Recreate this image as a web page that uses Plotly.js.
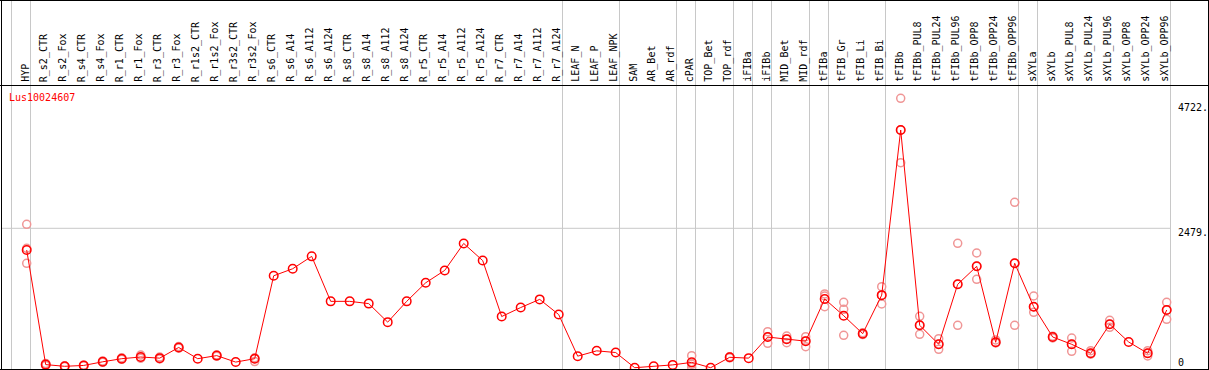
<!DOCTYPE html>
<html>
<head>
<meta charset="utf-8">
<script src="https://cdn.plot.ly/plotly-3.0.1.min.js"></script>
<style>html,body{margin:0;padding:0;background:#fff;}#chart{width:1209px;height:370px;}</style>
</head>
<body>
<div id="chart"></div>
<script>
const geneName = "Lus10024607";
const categories = ["HYP","R_s2_CTR","R_s2_Fox","R_s4_CTR","R_s4_Fox","R_r1_CTR","R_r1_Fox","R_r3_CTR","R_r3_Fox","R_r1s2_CTR","R_r1s2_Fox","R_r3s2_CTR","R_r3s2_Fox","R_s6_CTR","R_s6_A14","R_s6_A112","R_s6_A124","R_s8_CTR","R_s8_A14","R_s8_A112","R_s8_A124","R_r5_CTR","R_r5_A14","R_r5_A112","R_r5_A124","R_r7_CTR","R_r7_A14","R_r7_A112","R_r7_A124","LEAF_N","LEAF_P","LEAF_NPK","SAM","AR_Bet","AR_rdf","cPAR","TOP_Bet","TOP_rdf","iFIBa","iFIBb","MID_Bet","MID_rdf","tFIBa","tFIB_Gr","tFIB_Li","tFIB_Bi","tFIBb","tFIBb_PUL8","tFIBb_PUL24","tFIBb_PUL96","tFIBb_OPP8","tFIBb_OPP24","tFIBb_OPP96","sXYLa","sXYLb","sXYLb_PUL8","sXYLb_PUL24","sXYLb_PUL96","sXYLb_OPP8","sXYLb_OPP24","sXYLb_OPP96"];
const meanValues = [2093,55,25,40,105,160,190,170,360,160,215,100,160,1635,1760,1980,1180,1180,1140,810,1180,1510,1730,2210,1905,910,1070,1215,945,205,300,270,0,25,50,95,0,185,170,545,508,472,1222,925,605,1290,4227,754,416,1483,1803,452,1857,1085,546,416,256,772,457,256,1026];
const rep1 = [2550,75,30,45,120,175,225,190,375,null,225,null,175,null,null,null,null,null,null,null,null,null,null,null,null,null,null,null,null,null,null,null,null,null,null,213,null,195,null,640,564,551,1311,1163,620,1440,4791,914,516,2212,2040,493,2941,1275,560,528,303,843,null,303,1163];
const rep2 = [2123,50,20,35,95,150,175,155,350,null,205,null,110,null,null,null,null,null,null,null,null,null,null,null,null,null,null,null,null,null,null,null,null,null,null,60,null,175,null,546,510,475,1275,1039,605,1290,4227,754,416,1483,1803,452,1857,1085,546,416,256,772,null,256,1026];
const rep3 = [1857,40,25,40,100,155,170,165,355,null,215,null,160,null,null,null,null,null,null,null,null,null,null,null,null,null,null,null,null,null,null,null,null,null,null,7,null,185,null,434,445,373,1085,576,590,1133,3646,594,327,754,1572,440,754,985,530,292,240,718,null,209,860];
const groupEnds = ["", "HYP","R_r7_A124","LEAF_NPK","AR_rdf","cPAR","TOP_rdf","iFIBa","iFIBb","MID_rdf","tFIBa","tFIB_Bi","tFIBb_OPP96","sXYLa","sXYLb_OPP96"];
const tickValues = [0, 2479, 4722];
const tickLabels = ["0", "2479.", "4722."];

const W = 1209, H = 370;
const px = x => x / W;
const py = y => (H - y) / H;
const idx = categories.map((c, i) => i);
const mono = "DejaVu Sans Mono, monospace";

// replicate points
const rx = [], ry = [];
[rep1, rep2, rep3].forEach(r => r.forEach((v, i) => { if (v !== null) { rx.push(i); ry.push(v); } }));

const traces = [
  { x: rx, y: ry, type: 'scatter', mode: 'markers', hoverinfo: 'skip', cliponaxis: false,
    marker: { symbol: 'circle-open', size: 8, color: 'rgb(240,150,150)', line: { width: 1.5 } } },
  { x: idx, y: meanValues, type: 'scatter', mode: 'lines+markers', cliponaxis: false,
    line: { color: 'rgb(255,0,0)', width: 1 },
    marker: { symbol: 'circle-open', size: 8.5, color: 'rgb(255,0,0)', line: { width: 1.5 } } }
];

const shapes = [];
const black = { color: '#000', width: 1 };
const grey = { color: 'rgb(200,200,200)', width: 1 };
// group separators
groupEnds.forEach(g => {
  const k = g === "" ? -1 : categories.indexOf(g);
  shapes.push({ type: 'line', xref: 'x', yref: 'paper', x0: k + 0.2, x1: k + 0.2, y0: py(369), y1: py(0), line: grey, layer: 'below' });
});
// horizontal grid at middle tick
shapes.push({ type: 'line', xref: 'x', yref: 'y', x0: -1.35, x1: categories.length - 1 + 0.2, y0: tickValues[1], y1: tickValues[1], line: grey, layer: 'below' });
// frame
shapes.push({ type: 'line', xref: 'paper', yref: 'paper', x0: 0, x1: 1, y0: py(0.5), y1: py(0.5), line: black });
shapes.push({ type: 'line', xref: 'paper', yref: 'paper', x0: 0, x1: 1, y0: py(85.5), y1: py(85.5), line: black });
shapes.push({ type: 'line', xref: 'paper', yref: 'paper', x0: 0, x1: 1, y0: py(369.5), y1: py(369.5), line: black });
shapes.push({ type: 'line', xref: 'paper', yref: 'paper', x0: px(1.5), x1: px(1.5), y0: 0, y1: 1, line: black });
shapes.push({ type: 'line', xref: 'paper', yref: 'paper', x0: px(1208.5), x1: px(1208.5), y0: 0, y1: 1, line: black });

const annotations = [];
categories.forEach((c, i) => {
  annotations.push({ text: c, xref: 'x', x: i, xshift: -2, yref: 'paper', y: py(83), yanchor: 'bottom', xanchor: 'center',
    textangle: -90, showarrow: false, borderpad: 0, font: { family: mono, size: 10, color: '#000' } });
});
const tickShift = [5, -4, -5];
tickValues.forEach((v, i) => {
  annotations.push({ text: tickLabels[i], xref: 'paper', x: px(1177), xanchor: 'left', yref: 'y', y: v, yshift: tickShift[i],
    yanchor: 'middle', showarrow: false, borderpad: 0, font: { family: mono, size: 10, color: '#000' } });
});
annotations.push({ text: geneName, xref: 'paper', x: px(8), xanchor: 'left', yref: 'paper', y: py(97), yanchor: 'middle',
  showarrow: false, borderpad: 0, font: { family: mono, size: 10, color: 'rgb(255,0,0)' } });

const layout = {
  width: W, height: H, margin: { l: 0, r: 0, t: 0, b: 0, pad: 0 },
  paper_bgcolor: '#fff', plot_bgcolor: '#fff', showlegend: false,
  xaxis: { domain: [px(1), px(1208)], range: [-1.3526, 62.174], showgrid: false, zeroline: false, showticklabels: false, ticks: '', showline: false, fixedrange: true },
  yaxis: { domain: [py(369), py(85)], range: [-23.1, 5027.6], showgrid: false, zeroline: false, showticklabels: false, ticks: '', showline: false, fixedrange: true },
  shapes: shapes, annotations: annotations
};
Plotly.newPlot('chart', traces, layout, { displayModeBar: false, staticPlot: true });
</script>
</body>
</html>
